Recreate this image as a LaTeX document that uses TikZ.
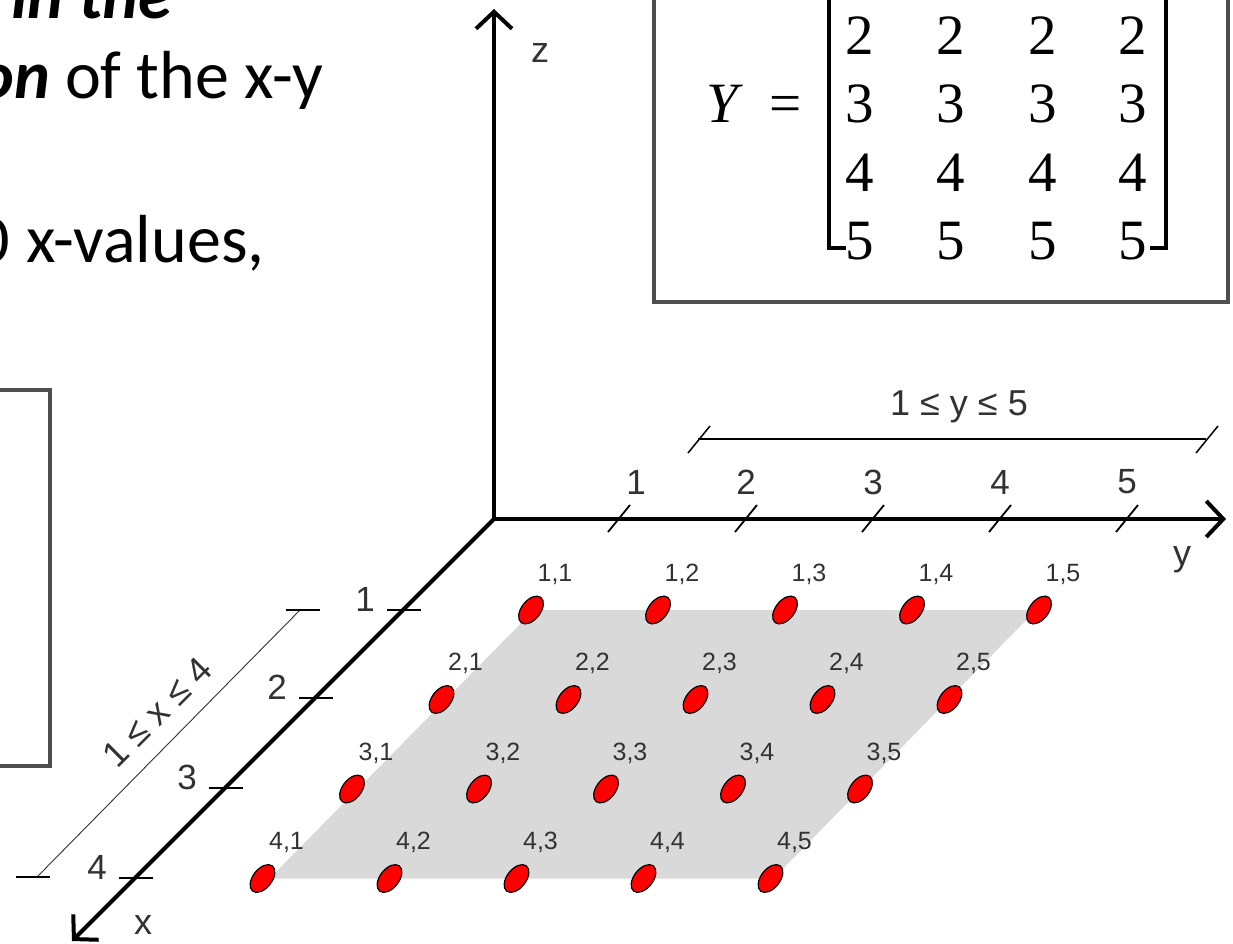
\documentclass[tikz,border=0pt]{standalone}
\usepackage{fontspec}
\setmainfont{Carlito}
\newfontfamily\labfont{Liberation Sans}
\newfontfamily\mxfont{Liberation Serif}
\usetikzlibrary{arrows.meta,shapes.geometric,calc}
\definecolor{boxgray}{RGB}{77,77,82}
\definecolor{planegray}{RGB}{217,217,217}
\definecolor{labgray}{RGB}{50,50,50}
\definecolor{dotred}{RGB}{255,0,0}
\begin{document}
\begin{tikzpicture}[x=1pt,y=-1pt,
  every node/.style={inner sep=0pt,outer sep=0pt},
  axisline/.style={line width=4pt,-{Straight Barb[length=17pt,width=36pt]}},
  tickline/.style={line width=1.8pt},
  boxline/.style={draw=boxgray,line width=4.5pt},
  reddot/.style={ellipse,draw=black,line width=1.2pt,fill=dotred,minimum width=19pt,minimum height=32pt,rotate=-38},
  dotlab/.style={text=labgray,font=\labfont\fontsize{25}{28}\selectfont,anchor=base},
  axnum/.style={text=labgray,font=\labfont\fontsize{35}{40}\selectfont},
  axlet/.style={text=labgray,font=\labfont\fontsize{36}{40}\selectfont},
  rangelab/.style={text=labgray,font=\labfont\fontsize{36}{40}\selectfont},
  slidetext/.style={font=\fontsize{68}{80}\selectfont},
  mtx/.style={font=\mxfont\fontsize{57}{60}\selectfont,anchor=base}
]
\useasboundingbox (0,0) rectangle (1233,943);
\clip (0,0) rectangle (1233,943);

% slide text (cropped)
\node[slidetext,anchor=base east] (t1) at (172,18) {\bfseries\itshape in the};
\node[slidetext,anchor=base east] (t2a) at (50,98) {\bfseries\itshape on};
\node[slidetext,anchor=base west] (t2b) at (65,98) {of the x-y};
\node[slidetext,anchor=base east] (t3a) at (10,262) {0};
\node[slidetext,anchor=base west] (t3b) at (26,262) {x-values,};

% boxes
\draw[boxline] (-30,390) rectangle (50,766);
\draw[boxline] (654,-30) rectangle (1228,302);

% matrix Y
\node[mtx] (Ylet) at (722,122) {\itshape Y};
\node[mtx] (Yeq) at (786,122) {=};
\foreach \r/\yy in {2/54,3/122,4/191,5/259}{
  \foreach \c/\xx in {1/860,2/951,3/1043,4/1133}{
    \node[mtx] (m\r\c) at (\xx,\yy) {\r};
  }
}
\draw[line width=4pt] (846,248) -- (829,248) -- (829,-20);
\draw[line width=4pt] (1150,248) -- (1166,248) -- (1166,-20);

% grid points
\foreach \i in {1,...,4}{
  \foreach \j in {1,...,5}{
    \coordinate (p\i\j) at ({531+127*(\j-1)-89.5*(\i-1)},{610+89.5*(\i-1)});
  }
}
\fill[planegray] ($(p11)+(3,0)$) -- ($(p15)+(-3,0)$) -- ($(p45)+(3,0)$) -- ($(p41)+(7,0)$) -- cycle;

% axes
\coordinate (O) at (494,519);
\coordinate (ztip) at (494,9);
\coordinate (ytip) at (1226,519);
\coordinate (xtip) at (72,941);
\draw[axisline] (O) -- (ztip);
\draw[axisline] (O) -- (ytip);
\draw[axisline] (O) -- (xtip);
\node[axlet] (zl) at (540,53) {z};
\node[axlet] (yl) at (1182,560) {y};
\node[axlet] (xl) at (143,925) {x};

% y ticks
\foreach \k/\xx/\lx in {1/619/636,2/746/746,3/873/873,4/1000/1000,5/1127/1127}{
  \draw[tickline] (\xx-11,532) -- (\xx+11,505);
  \node[axnum] (yn\k) at (\lx,482) {\k};
}
% y range
\coordinate (yr1) at (698,439);
\coordinate (yr2) at (1206,439);
\draw[line width=2pt] (yr1) -- (yr2);
\draw[line width=1.5pt] (688,453) -- (710,426);
\draw[line width=1.5pt] (1196,453) -- (1218,426);
\node[rangelab] (yrl) at (959,407) {1 ≤ y ≤ 5};

% x ticks
\foreach \k/\xx/\yy in {1/403/610,2/315/698,3/225/788,4/135/878}{
  \draw[line width=2.2pt] (\xx-16,\yy) -- (\xx+18,\yy);
  \node[axnum] (xn\k) at (\xx-38,\yy-11) {\k};
}
% x range
\coordinate (xr1) at (300,610);
\coordinate (xr2) at (37,877);
\draw[line width=0.9pt,labgray] (xr1) -- (xr2);
\draw[line width=1.8pt] (286,610) -- (320,610);
\draw[line width=1.8pt] (16,877) -- (50,877);
\node[rangelab,rotate=45] (xrl) at (157,712) {1 ≤ x ≤ 4};

% dots and labels
\foreach \i in {1,...,4}{
  \foreach \j in {1,...,5}{
    \node[reddot] (d\i\j) at (p\i\j) {};
    \node[dotlab,xshift=24pt,yshift=29pt] (l\i\j) at (p\i\j) {\i,\j};
  }
}
\end{tikzpicture}
\end{document}
